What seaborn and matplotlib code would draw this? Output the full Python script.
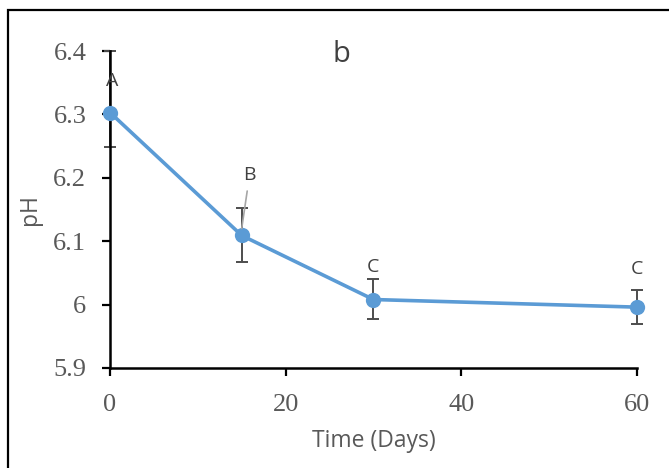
import numpy as np
import pandas as pd
import seaborn as sns
import matplotlib.pyplot as plt
from matplotlib.patches import Rectangle

# data
days = [0, 15, 30, 60]
ph = [6.303, 6.109, 6.008, 5.996]
err_low = [0.054, 0.042, 0.031, 0.027]
err_high = [0.097, 0.044, 0.033, 0.027]
letters = ["A", "B", "C", "C"]

df = pd.DataFrame({"Time (Days)": days, "pH": ph})

sns.set_style("white")
plt.rcParams["font.family"] = ["Open Sans", "DejaVu Sans"]

fig = plt.figure(figsize=(6.69, 4.68), dpi=100)
ax = fig.add_axes([0.1644, 0.2137, 0.952 - 0.1644, 0.891 - 0.2137])

eb = ax.errorbar(df["Time (Days)"], df["pH"], yerr=[err_low, err_high], fmt="none",
                 ecolor="#4D4D4D", elinewidth=1.4, capsize=4.5, capthick=1.4, zorder=2)
for part in eb.lines[1] + eb.lines[2]:
    part.set_clip_on(False)
sns.lineplot(data=df, x="Time (Days)", y="pH", ax=ax, color="#5B9BD5",
             linewidth=2.6, marker="o", markersize=11, markeredgewidth=0, zorder=3)
for ln in ax.lines:
    ln.set_clip_on(False)

ax.set_xlim(0, 60)
ax.set_ylim(5.9, 6.4)
ax.set_xticks([0, 20, 40, 60])
ax.set_yticks([5.9, 6.0, 6.1, 6.2, 6.3, 6.4])
ax.set_yticklabels(["5.9", "6", "6.1", "6.2", "6.3", "6.4"])
for lab in ax.get_xticklabels() + ax.get_yticklabels():
    lab.set_fontfamily("Liberation Serif")
    lab.set_fontsize(19)
    lab.set_color("#595959")
ax.tick_params(axis="both", direction="out", length=6, width=1.6, color="black",
               bottom=True, left=True)
ax.tick_params(axis="y", pad=11)
ax.tick_params(axis="x", pad=13)

sns.despine(ax=ax)
for s in ["left", "bottom"]:
    ax.spines[s].set_color("black")
    ax.spines[s].set_linewidth(1.8)

ax.set_xlabel("Time (Days)", fontsize=16.5, color="#595959", labelpad=9)
ax.set_ylabel("pH", fontsize=16.5, color="#595959", labelpad=8)

# significance letters
ax.text(0.2, 6.352, letters[0], ha="center", va="center", fontsize=14, color="#404040")
ax.annotate(letters[1], xy=(15.0, 6.12), xytext=(15.9, 6.205), ha="center", va="center",
            fontsize=14, color="#404040",
            arrowprops=dict(arrowstyle="-", color="#A6A6A6", lw=1.2, shrinkA=3, shrinkB=0))
ax.text(30, 6.06, letters[2], ha="center", va="center", fontsize=14, color="#404040")
ax.text(60, 6.056, letters[3], ha="center", va="center", fontsize=14, color="#404040")

ax.text(0.44, 1.035, "b", transform=ax.transAxes, ha="center", va="top",
        fontsize=21, color="#404040")

# outer frame of the original panel
fig.patches.append(Rectangle((8 / 669, -0.05), 1.1, 1 - 10 / 468 + 0.05,
                             transform=fig.transFigure, fill=False,
                             edgecolor="black", linewidth=1.6, clip_on=False))

fig.savefig("out.png", dpi=100)
